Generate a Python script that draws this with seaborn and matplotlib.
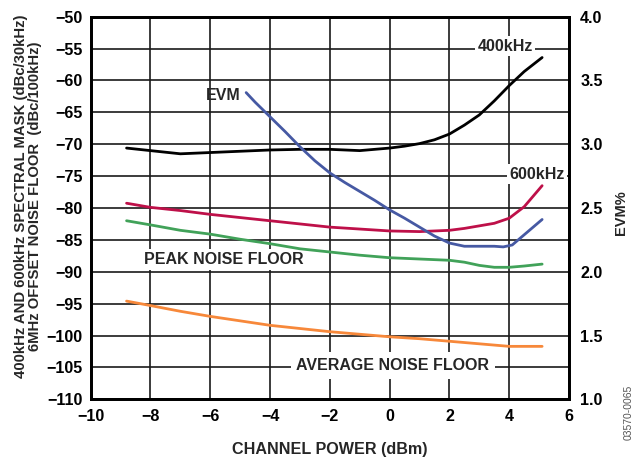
import numpy as np
import matplotlib
matplotlib.use("Agg")
import matplotlib.pyplot as plt
import seaborn as sns

# data
x_400 = [-8.8, -8, -7, -6, -5, -4, -3, -2, -1, 0, 0.5, 1, 1.5, 2, 2.5, 3, 3.5, 4, 4.5, 5.1]
y_400 = [-70.6, -71.0, -71.5, -71.3, -71.1, -70.9, -70.8, -70.8, -71.0, -70.6, -70.3,
         -69.9, -69.3, -68.4, -67.0, -65.4, -63.2, -60.8, -58.6, -56.4]

x_600 = [-8.8, -8, -7, -6, -5, -4, -3, -2, -1, 0, 1, 2, 2.5, 3, 3.5, 4, 4.5, 5.1]
y_600 = [-79.25, -79.9, -80.4, -81.0, -81.5, -82.0, -82.5, -83.0, -83.3, -83.6, -83.7,
         -83.5, -83.2, -82.8, -82.4, -81.6, -79.8, -76.5]

x_peak = [-8.8, -8, -7, -6, -5, -4, -3, -2, -1, 0, 1, 2, 2.5, 3, 3.5, 4, 4.5, 5.1]
y_peak = [-82.0, -82.65, -83.5, -84.1, -84.9, -85.6, -86.4, -86.9, -87.4, -87.8, -88.0,
          -88.2, -88.5, -89.0, -89.3, -89.3, -89.1, -88.8]

x_avg = [-8.8, -8, -7, -6, -5, -4, -3, -2, -1, 0, 1, 2, 3, 4, 5.1]
y_avg = [-94.6, -95.3, -96.2, -97.0, -97.7, -98.4, -98.9, -99.4, -99.8, -100.2, -100.5,
         -100.9, -101.3, -101.7, -101.7]

x_evm = [-4.8, -4.5, -4, -3.5, -3, -2.5, -2, -1.5, -1, -0.5, 0, 0.5, 1, 1.5, 2, 2.5,
         3, 3.5, 3.8, 4.1, 4.5, 5.1]
y_evm = [3.405, 3.33, 3.215, 3.10, 2.98, 2.87, 2.775, 2.70, 2.63, 2.56, 2.485, 2.42,
         2.35, 2.28, 2.225, 2.20, 2.20, 2.20, 2.195, 2.21, 2.29, 2.41]

x_ticks = [-10, -8, -6, -4, -2, 0, 2, 4, 6]
y_ticks = [-50, -55, -60, -65, -70, -75, -80, -85, -90, -95, -100, -105, -110]
evm_ticks = [1.0, 1.5, 2.0, 2.5, 3.0, 3.5, 4.0]

sns.set_theme(style="white")
plt.rcParams['font.family'] = ['Liberation Sans', 'DejaVu Sans']
plt.rcParams['font.weight'] = 'bold'
plt.rcParams['axes.unicode_minus'] = True

fig = plt.figure(figsize=(6.36, 4.58), dpi=100)
ax = fig.add_axes([0.1426, 0.1282, 0.7521, 0.8353])
ax2 = ax.twinx()

lw = 2.0
sns.lineplot(x=x_400, y=y_400, color='black', lw=lw, ax=ax, zorder=5)
sns.lineplot(x=x_600, y=y_600, color='#BE1049', lw=lw, ax=ax, zorder=5)
sns.lineplot(x=x_peak, y=y_peak, color='#41A259', lw=lw, ax=ax, zorder=5)
sns.lineplot(x=x_avg, y=y_avg, color='#F7883A', lw=lw, ax=ax, zorder=5)
sns.lineplot(x=x_evm, y=y_evm, color='#4659A3', lw=lw, ax=ax2, zorder=5)

ax.set_xlim(-10, 6)
ax.set_ylim(-110, -50)
ax2.set_ylim(1.0, 4.0)
ax.set_xticks(x_ticks)
ax.set_yticks(y_ticks)
ax2.set_yticks(evm_ticks)
ax2.set_yticklabels([f"{v:.1f}" for v in evm_ticks])
ax.set_xticklabels([str(v).replace('-', '\u2212') for v in x_ticks])
ax.set_yticklabels([str(v).replace('-', '\u2212') for v in y_ticks])

ax.grid(True, color='#1a1a1a', lw=1.2)
ax2.grid(False)
ax.set_axisbelow(True)
for a in (ax, ax2):
    for s in a.spines.values():
        s.set_color('black')
        s.set_linewidth(2.0)
    a.tick_params(length=0, labelsize=11.6, colors='black')
ax.tick_params(axis='y', pad=6)
ax.tick_params(axis='x', pad=7)
ax2.tick_params(axis='y', pad=8)

ax.set_xlabel('CHANNEL POWER (dBm)', fontsize=11.6, fontweight='bold', labelpad=13)
ax.set_ylabel('400kHz AND 600kHz SPECTRAL MASK (dBc/30kHz)\n6MHz OFFSET NOISE FLOOR  (dBc/100kHz)',
              fontsize=10.7, fontweight='bold', linespacing=1.0)
ax.yaxis.set_label_coords(-0.102, 0.53)
ax2.set_ylabel('EVM%', fontsize=10.5, fontweight='bold')
ax2.yaxis.set_label_coords(1.093, 0.487)

box = dict(facecolor='white', edgecolor='none', pad=2)
fs = 11.5
ax.text(3.86, -54.6, '400kHz', fontsize=fs, fontweight='bold', ha='center', va='center', bbox=box, zorder=3)
ax.text(4.93, -74.7, '600kHz', fontsize=fs, fontweight='bold', ha='center', va='center', bbox=box, zorder=3)
ax.text(-5.58, -62.3, 'EVM', fontsize=fs, fontweight='bold', ha='center', va='center', zorder=3)
ax.text(-5.56, -88.1, 'PEAK NOISE FLOOR', fontsize=fs, fontweight='bold', ha='center', va='center',
        bbox=box, zorder=3)
ax.text(0.11, -104.7, 'AVERAGE NOISE FLOOR', fontsize=fs, fontweight='bold', ha='center', va='center',
        bbox=dict(facecolor='white', edgecolor='none', pad=4), zorder=3)

fig.text(0.989, 0.1, '03570-0065', rotation=90, fontsize=7.5, fontweight='normal',
         color='#555555', ha='center', va='center')

fig.savefig('out.png', dpi=100)
